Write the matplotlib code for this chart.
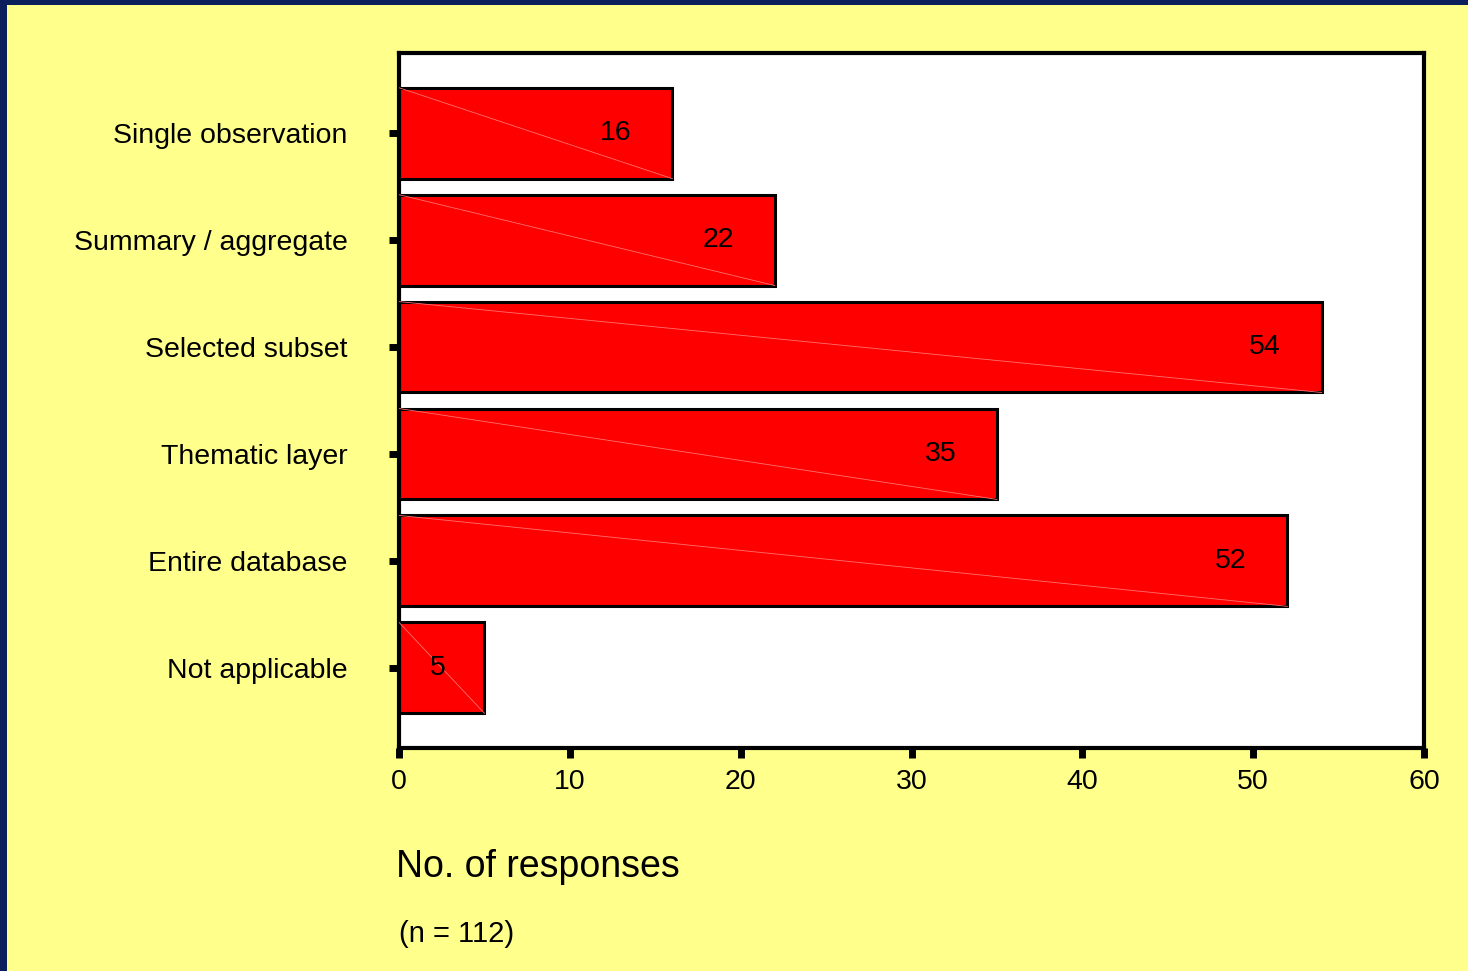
import matplotlib.pyplot as plt
from matplotlib.patches import Rectangle

categories = ["Single observation", "Summary / aggregate", "Selected subset",
              "Thematic layer", "Entire database", "Not applicable"]
responses = [16, 22, 54, 35, 52, 5]
xticks = [0, 10, 20, 30, 40, 50, 60]

yellow = "#FFFF8C"
navy = "#0A1F5C"

plt.rcParams["font.family"] = ["Liberation Sans", "DejaVu Sans"]

fig = plt.figure(figsize=(14.68, 9.71), dpi=100, facecolor=yellow)
W, H = 1468, 971

# dark frame on top and left edge
fig.patches.append(Rectangle((0, 1 - 5 / H), 1, 5 / H, transform=fig.transFigure,
                             facecolor=navy, edgecolor="none", zorder=0))
fig.patches.append(Rectangle((0, 0), 7 / W, 1, transform=fig.transFigure,
                             facecolor=navy, edgecolor="none", zorder=0))

ax = fig.add_axes([399 / W, 1 - 748 / H, (1424 - 399) / W, (748 - 53) / H])
ax.set_facecolor("white")

ypos = list(range(len(categories)))
bh = 0.85
ax.barh(ypos, responses, height=bh, color="#FF0000", edgecolor="black",
        linewidth=2.2, zorder=2)

# faint diagonal line inside each bar
for y, v in zip(ypos, responses):
    ax.plot([0, v], [y - bh / 2, y + bh / 2], color="#FF7070", lw=0.6, zorder=3)
    off = 3.3 if v > 10 else 2.7
    ax.text(v - off, y, str(v), ha="center", va="center", fontsize=20.5, zorder=4)

ax.set_xlim(0, 60)
ax.set_ylim(len(categories) - 0.25, -0.75)
ax.set_xticks(xticks)
ax.set_xticklabels([str(t) for t in xticks], fontsize=20.5)
ax.set_yticks(ypos)
ax.set_yticklabels(categories, fontsize=20.5)
ax.tick_params(axis="both", length=7, width=5, direction="out", color="black")
ax.tick_params(axis="y", pad=30)
ax.tick_params(axis="x", pad=8)
for s in ax.spines.values():
    s.set_linewidth(3)
    s.set_color("black")

fig.text(396 / W, 1 - 867 / H, "No. of responses", fontsize=27, ha="left", va="center")
fig.text(399 / W, 1 - 934 / H, "(n = 112)", fontsize=21, ha="left", va="center")

fig.savefig("out.png", dpi=100, facecolor=yellow)
